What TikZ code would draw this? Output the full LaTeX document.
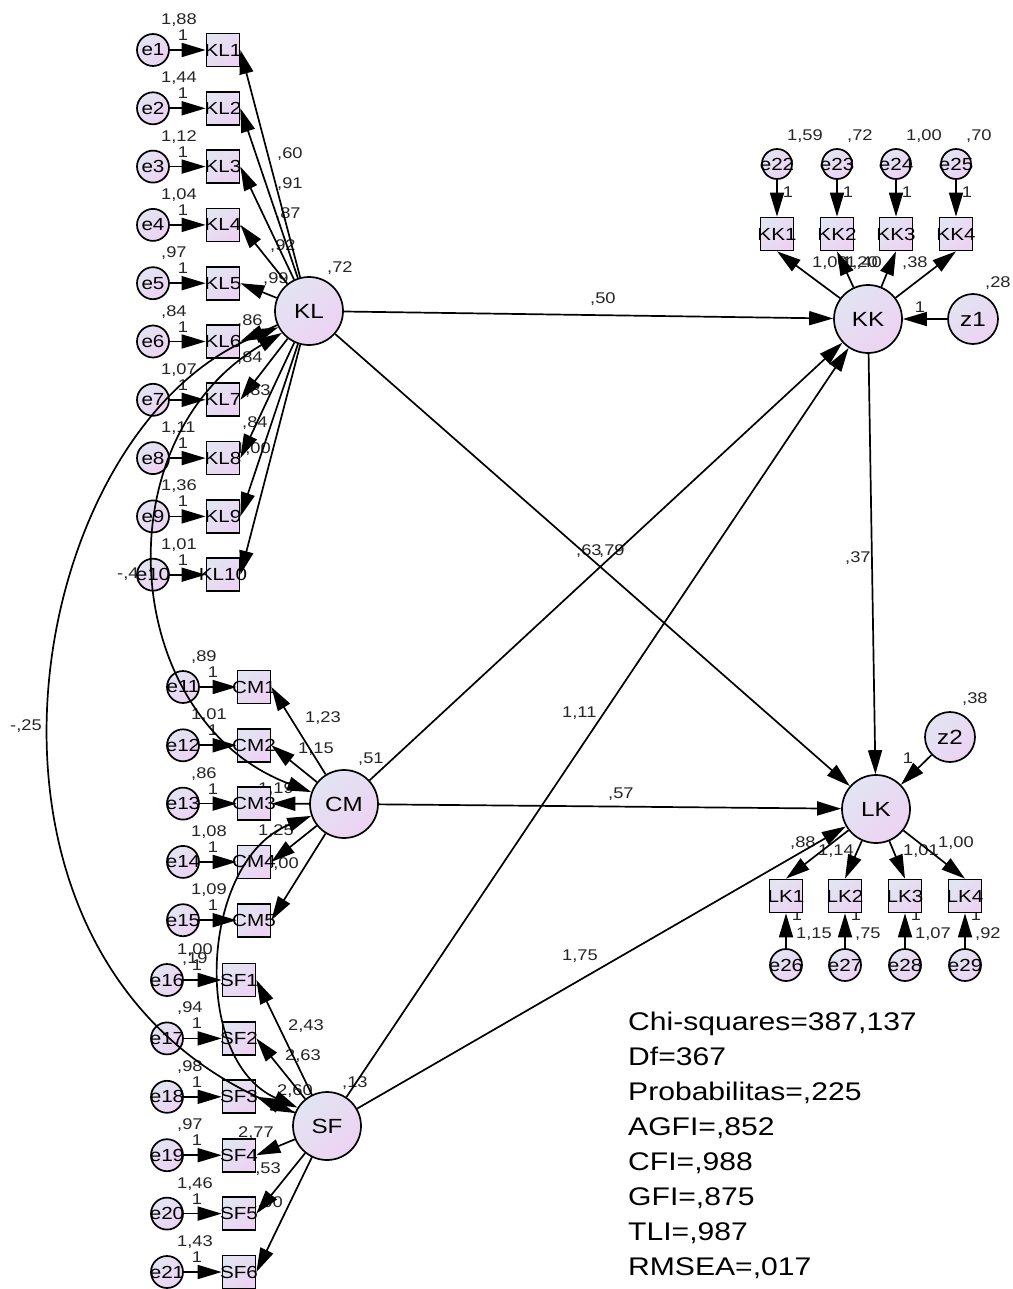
\documentclass[tikz,border=0pt]{standalone}
\usepackage{fontspec}
\setmainfont{Liberation Sans}[FakeStretch=1.18]
\usetikzlibrary{arrows.meta}
\definecolor{cA}{RGB}{226,228,242}
\definecolor{cB}{RGB}{237,210,243}
\tikzset{
  base/.style={draw, line width=1.7pt, top color=cA, bottom color=cB, shading angle=45, inner sep=0pt, text=black},
  zerow/.style={execute at begin node={\hbox to 0pt\bgroup\hss}, execute at end node={\hss\egroup}},
  lat/.style={base, circle, minimum size=68pt, font=\fontsize{20.5}{20.5}\selectfont},
  err/.style={base, zerow, circle, minimum size=32pt, font=\fontsize{17.5}{17.5}\selectfont},
  dis/.style={base, circle, minimum size=50pt, font=\fontsize{20.5}{20.5}\selectfont},
  obs/.style={base, zerow, rectangle, minimum size=33pt, font=\fontsize{17.5}{17.5}\selectfont},
  lab/.style={inner sep=0pt, anchor=west, text height=11pt, text depth=0pt, font=\fontsize{15.5}{15.5}\selectfont, text=black!85},
  fitl/.style={inner sep=0pt, anchor=west, text height=18pt, text depth=0pt, font=\fontsize{25.5}{25.5}\selectfont},
  arr/.style={line width=1.7pt, -{Triangle[length=24pt,width=14pt]}},
  cov/.style={line width=1.7pt, {Triangle[length=24pt,width=14pt]}-{Triangle[length=24pt,width=14pt]}},
}
\begin{document}
\begin{tikzpicture}[x=1pt,y=-1pt]
\useasboundingbox (0,0) rectangle (1012,1289);
\fill[white] (0,0) rectangle (1012,1289);

% ---------- labels (drawn first, AMOS-like layering) ----------
\foreach \i/\vv in {1/{1,88},2/{1,44},3/{1,12},4/{1,04},5/{,97},6/{,84},7/{1,07},8/{1,11},9/{1,36},10/{1,01}} {
  \pgfmathsetmacro\yy{50+(\i-1)*58.3}
  \node[lab] (ve\i) at (161,\yy-31) {\vv};
  \node[lab,anchor=center] (oe\i) at (183,\yy-15) {1};
}
\foreach \n/\x/\y/\t in {l1/277/153/{,60},l2/277/183/{,91},l3/275/213/{,87},l4/270/245/{,92},l5/263/278/{,99},l6/237/320/{,86},l7/237/357/{,84},l8/245/390/{,83},l9/242/422/{,84},l10/235/448/{1,00}}
  \node[lab] (kll\n) at (\x,\y) {\t};

\foreach \i/\vv [count=\k from 0] in {11/{,89},12/{1,01},13/{,86},14/{1,08},15/{1,09}} {
  \pgfmathsetmacro\yy{687+\k*58.3}
  \node[lab] (ve\i) at (191,\yy-31) {\vv};
  \node[lab,anchor=center] (oe\i) at (213,\yy-15) {1};
}
\foreach \n/\x/\y/\t in {1/305/717/{1,23},2/298/748/{1,15},3/258/788/{1,19},4/258/830/{1,25},5/263/863/{1,00}}
  \node[lab] (cml\n) at (\x,\y) {\t};

\foreach \i/\vv [count=\k from 0] in {16/{1,00},17/{,94},18/{,98},19/{,97},20/{1,46},21/{1,43}} {
  \pgfmathsetmacro\yy{980+\k*58.4}
  \node[lab] (ve\i) at (177,\yy-31) {\vv};
  \node[lab,anchor=center] (oe\i) at (197,\yy-15) {1};
}
\foreach \n/\x/\y/\t in {1/288/1025/{2,43},2/285/1055/{2,63},3/277/1090/{2,60},4/238/1132/{2,77},5/245/1168/{1,53},6/247/1202/{1,00}}
  \node[lab] (sfl\n) at (\x,\y) {\t};

\foreach \i/\x/\vv in {22/777/{1,59},23/837/{,72},24/896/{1,00},25/956/{,70}} {
  \node[lab] (ve\i) at (\x+10,135) {\vv};
  \node[lab,anchor=center] (oe\i) at (\x+11,192) {1};
}
\node[lab] (kkl1) at (812,262) {1,00};
\node[lab] (kkl2) at (842,262) {1,20};
\node[lab] (kkl3) at (846,262) {1,40};
\node[lab] (kkl4) at (902,262) {,38};

\foreach \i/\x/\vv in {26/786/{1,15},27/845/{,75},28/905/{1,07},29/965/{,92}} {
  \node[lab] (ve\i) at (\x+10,933) {\vv};
  \node[lab,anchor=center] (oe\i) at (\x+11,915) {1};
}
\node[lab] (lkl1) at (790,842) {,88};
\node[lab] (lkl2) at (818,850) {1,14};
\node[lab] (lkl3) at (903,850) {1,01};
\node[lab] (lkl4) at (938,842) {1,00};

\node[lab,anchor=center] (oz1) at (920,307) {1};
\node[lab] (vz1) at (985,282) {,28};
\node[lab] (vz2) at (962,698) {,38};
\node[lab,anchor=center] (oz2) at (908,758) {1};
\node[lab] (vKL) at (327,267) {,72};
\node[lab] (vCM) at (358,758) {,51};
\node[lab] (vSF) at (342,1082) {,13};
\node[lab] (c1) at (10,725) {-,25};
\node[lab] (c2) at (117,573) {-,47};
\node[lab] (c3) at (182,958) {,19};
\node[lab] (p1) at (590,298) {,50};
\node[lab] (p2) at (576,550) {,63};
\node[lab] (p3) at (599,550) {,79};
\node[lab] (p4) at (845,557) {,37};
\node[lab] (p5) at (608,793) {,57};
\node[lab] (p6) at (562,712) {1,11};
\node[lab] (p7) at (562,955) {1,75};

\foreach \t [count=\k from 0] in {Chi-squares=387{,}137, Df=367, Probabilitas={,}225, AGFI={,}852, CFI={,}988, GFI={,}875, TLI={,}987, RMSEA={,}017}
  \node[fitl] (fit\k) at (628,1021+\k*35.0) {\t};

% ---------- nodes ----------
\node[lat] (KL) at (309,311) {KL};
\node[lat] (CM) at (344,804) {CM};
\node[lat] (SF) at (327,1126) {SF};
\node[lat] (KK) at (868,319) {KK};
\node[lat] (LK) at (876,809) {LK};
\node[dis] (z1) at (973,319) {z1};
\node[dis] (z2) at (950,737) {z2};

\foreach \i in {1,...,10} {
  \pgfmathsetmacro\yy{50+(\i-1)*58.3}
  \node[err] (e\i) at (153,\yy) {e\i};
  \node[obs] (KL\i) at (223,\yy) {KL\i};
}
\foreach \i [count=\k from 0] in {11,...,15} {
  \pgfmathsetmacro\yy{687+\k*58.3}
  \node[err] (e\i) at (183,\yy) {e\i};
  \pgfmathtruncatemacro\j{\k+1}
  \node[obs] (CM\j) at (254,\yy) {CM\j};
}
\foreach \i [count=\k from 0] in {16,...,21} {
  \pgfmathsetmacro\yy{980+\k*58.4}
  \node[err] (e\i) at (167,\yy) {e\i};
  \pgfmathtruncatemacro\j{\k+1}
  \node[obs] (SF\j) at (239,\yy) {SF\j};
}
\foreach \i/\x [count=\j] in {22/777,23/837,24/896,25/956} {
  \node[err,minimum size=30pt] (e\i) at (\x,164) {e\i};
  \node[obs] (KK\j) at (\x,234) {KK\j};
}
\foreach \i/\x [count=\j] in {26/786,27/845,28/905,29/965} {
  \node[err] (e\i) at (\x,965) {e\i};
  \node[obs] (LK\j) at (\x,896) {LK\j};
}

% ---------- edges ----------
\foreach \i in {1,...,10} {
  \draw[arr] (e\i) -- (KL\i);
  \draw[arr] (KL) -- (KL\i.east);
}
\foreach \i [count=\j] in {11,...,15} {
  \draw[arr] (e\i) -- (CM\j);
  \draw[arr] (CM) -- (CM\j.east);
}
\foreach \i [count=\j] in {16,...,21} {
  \draw[arr] (e\i) -- (SF\j);
  \draw[arr] (SF) -- (SF\j.east);
}
\foreach \i [count=\j] in {22,...,25} {
  \draw[arr] (e\i) -- (KK\j);
  \draw[arr] (KK) -- (KK\j.south);
}
\foreach \i [count=\j] in {26,...,29} {
  \draw[arr] (e\i) -- (LK\j);
  \draw[arr] (LK) -- (LK\j.north);
}
\draw[arr] (KL) -- (KK);
\draw[arr] (KL) -- (LK);
\draw[arr] (CM) -- (KK);
\draw[arr] (CM) -- (LK);
\draw[arr] (SF) -- (KK);
\draw[arr] (SF) -- (LK);
\draw[arr] (KK) -- (LK);
\draw[arr] (z1) -- (KK);
\draw[arr] (z2) -- (LK);

% covariances
\draw[cov] (KL.208) .. controls (20,430) and (-70,960) .. (SF.158);
\draw[cov] (KL.219) .. controls (100,440) and (120,720) .. (CM.160);
\draw[cov] (CM.200) .. controls (200,860) and (190,1060) .. (SF.148);
\end{tikzpicture}
\end{document}
